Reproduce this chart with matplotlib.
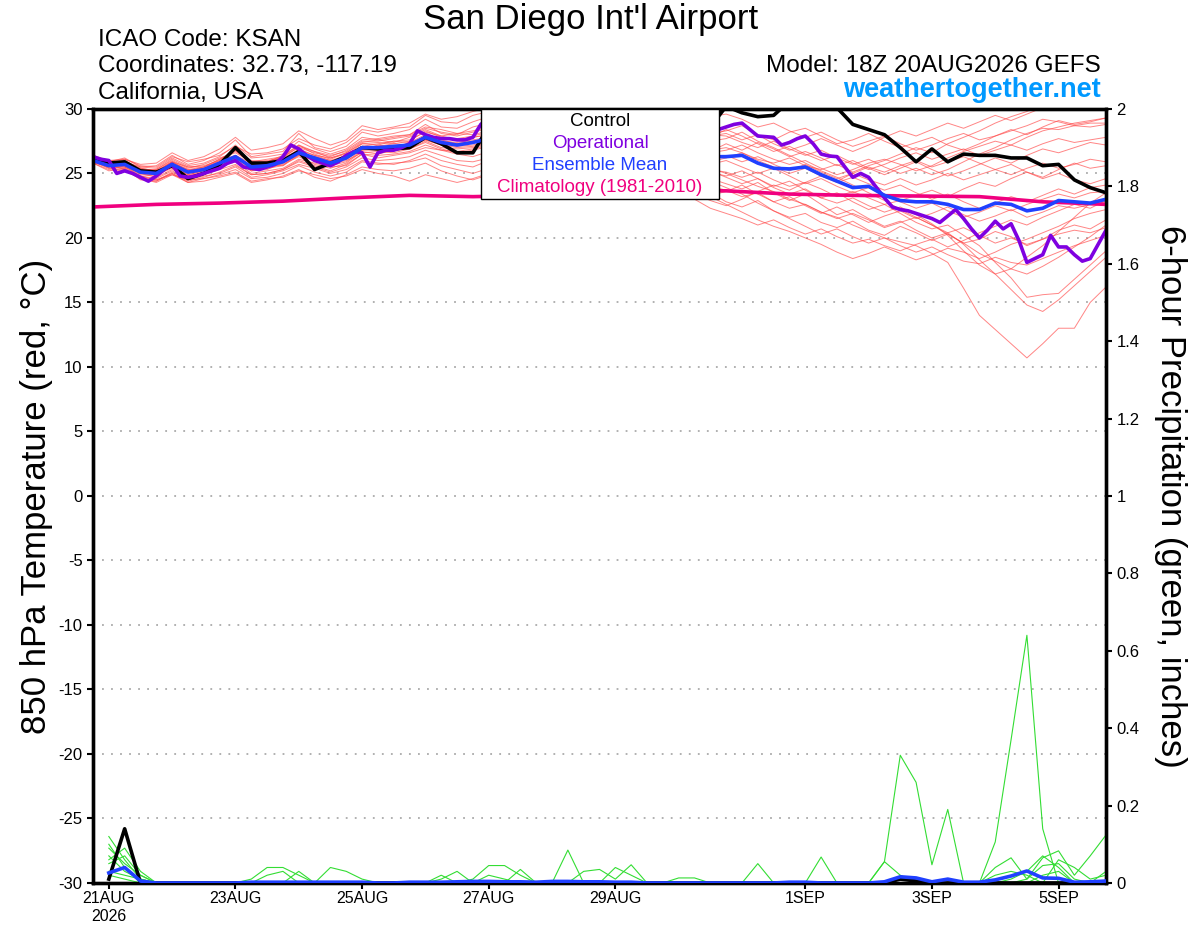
import numpy as np
import pandas as pd
import matplotlib
matplotlib.use("Agg")
import matplotlib.pyplot as plt
from matplotlib.patches import Rectangle

plt.rcParams['font.family'] = ['Liberation Sans', 'DejaVu Sans']
plt.rcParams['axes.unicode_minus'] = False

# ---------- data ----------
times = pd.date_range("2026-08-20 18:00", periods=65, freq="6h")
op_times = pd.date_range("2026-08-20 18:00", periods=129, freq="3h")
clim_times = times[::4]

tick_dates = pd.to_datetime(["2026-08-21", "2026-08-23", "2026-08-25", "2026-08-27",
                             "2026-08-29", "2026-09-01", "2026-09-03", "2026-09-05"])
tick_labels = ["21AUG\n2026", "23AUG", "25AUG", "27AUG", "29AUG", "1SEP", "3SEP", "5SEP"]

# 850 hPa temperature (C)
control_t = [26.2, 25.8, 25.9, 25.2, 25.1, 25.6, 24.6, 25.0, 25.7, 27.0, 25.8, 25.8, 26.0, 26.7, 25.3, 25.8,
             26.3, 27.0, 26.9, 26.9, 27.0, 27.8, 27.3, 26.6, 26.6,
             28.6, 29.2, 29.5, 29.0, 29.8, 30.4, 29.6, 29.9, 30.5, 29.8, 29.2, 29.6, 28.9, 28.2, 28.6,
             30.2, 29.7, 29.4, 29.5, 30.6, 31.0, 30.8, 30.1, 28.8, 28.4, 28.0, 27.0, 25.9, 26.9, 25.9,
             26.5, 26.4, 26.4, 26.2, 26.2, 25.6, 25.7, 24.5, 23.9, 23.5]

mean_t = [26.0, 25.6, 25.7, 25.1, 25.0, 25.7, 25.1, 25.3, 25.8, 26.3, 25.5, 25.6, 25.9, 26.6, 26.2, 25.8,
          26.2, 27.0, 27.0, 27.1, 27.2, 27.8, 27.4, 27.2, 27.4,
          27.7, 27.9, 27.6, 27.5, 27.8, 27.6, 27.3, 27.4, 27.1, 26.9, 27.0, 26.8, 26.5, 26.6, 26.3,
          26.3, 26.4, 25.8, 25.4, 25.35, 25.5, 24.9, 24.4, 23.9, 24.0, 23.3, 22.9, 22.8, 22.8, 22.6,
          22.2, 22.2, 22.7, 22.6, 22.1, 22.3, 22.9, 22.8, 22.7, 23.0]

oper_t = [26.3, 26.1, 26.0, 25.0, 25.2, 25.0, 24.7, 24.4, 24.8, 25.3, 25.7, 24.8, 24.7, 24.8, 25.0, 25.2,
          25.4, 25.8, 26.0, 25.5, 25.4, 25.3, 25.5, 25.7, 26.3, 27.2, 26.9, 26.4, 26.0, 25.8, 25.6, 25.9,
          26.4, 26.7, 26.6, 25.5, 26.6, 26.8, 26.8, 27.0, 27.3, 28.3, 28.0, 27.8, 27.7, 27.7, 27.6, 27.6,
          27.8, 28.8, 29.3, 29.6, 29.4, 29.9, 30.3, 30.1, 29.7, 29.5, 29.9, 30.2, 29.8, 29.4, 29.6, 29.2,
          28.9, 29.3, 29.5, 29.0, 28.7, 28.9, 28.6, 28.3, 28.5, 28.2, 28.4, 28.0, 28.3, 28.1, 28.2, 28.4,
          28.6, 28.8, 28.9, 28.4, 27.9, 27.85, 27.8, 27.2, 27.4, 27.7, 27.9, 27.3, 26.5, 26.35, 26.3, 25.5,
          24.7, 25.0, 24.7, 23.9, 23.1, 22.4, 22.2, 22.1, 21.9, 21.7, 21.5, 21.2, 21.7, 22.2, 21.5, 20.7,
          20.0, 20.6, 21.3, 20.7, 21.1, 19.8, 18.1, 18.4, 18.7, 20.2, 19.3, 19.3, 18.7, 18.2, 18.4, 19.5,
          20.6]

clim_t = [22.4, 22.6, 22.7, 22.85, 23.1, 23.3, 23.2, 23.3, 23.5, 23.7, 23.65, 23.4, 23.3, 23.25, 23.2,
          22.8, 22.6]

members_t = [
    [26.3, 25.9, 26.2, 25.5, 25.6, 26.4, 25.7, 26.0, 26.6, 27.6, 26.3, 26.5, 26.7, 28.1, 27.0, 26.7, 27.1, 28.2, 27.9, 28.1, 28.4, 29.2, 28.6, 28.5, 29.0,
     29.4, 29.8, 29.3, 29.6, 30.2, 29.8, 29.4, 29.7, 29.1, 28.9, 29.3, 28.7, 28.4, 28.6, 28.1,
     28.3, 28.7, 28.0, 27.6, 28.2, 28.5, 27.9, 27.3, 27.6, 28.1, 27.5, 27.0, 27.4, 27.8, 27.2, 26.8, 27.3, 27.9, 28.4, 28.0, 28.6, 29.1, 28.8, 29.0, 29.3],
    [25.8, 25.3, 25.2, 24.6, 24.4, 25.1, 24.5, 24.8, 25.0, 25.5, 24.7, 24.9, 25.2, 25.7, 25.4, 25.0, 25.3, 26.0, 25.8, 25.7, 26.0, 26.5, 26.0, 25.7, 25.5,
     26.0, 26.4, 26.1, 25.8, 26.3, 26.0, 25.7, 25.9, 25.5, 25.2, 25.4, 25.0, 24.6, 24.1, 23.5,
     22.8, 22.4, 22.9, 22.1, 21.6, 21.9, 21.2, 20.8, 21.3, 20.6, 20.2, 20.9, 20.4, 19.8, 20.3, 19.6, 19.9, 20.5, 20.1, 19.4, 19.9, 20.6, 21.0, 20.7, 21.4],
    [26.1, 25.7, 25.9, 25.3, 25.2, 25.9, 25.3, 25.5, 25.9, 26.8, 25.8, 25.9, 26.4, 27.2, 26.5, 26.1, 26.6, 27.3, 27.2, 27.5, 27.6, 28.2, 27.9, 27.6, 27.8,
     28.0, 28.3, 27.9, 27.7, 28.1, 27.8, 27.5, 27.6, 27.2, 27.0, 27.1, 26.6, 26.2, 25.9, 25.4,
     25.0, 24.5, 24.0, 23.6, 23.0, 22.6, 22.0, 21.6, 21.0, 20.5, 20.0, 19.7, 19.4, 18.8, 18.1, 16.1, 14.0, 12.9, 11.8, 10.7, 11.8, 13.0, 13.0, 15.0, 16.2],
    [26.4, 25.9, 25.6, 25.0, 24.7, 25.3, 24.8, 25.1, 25.4, 26.0, 25.2, 25.5, 25.7, 26.3, 25.7, 25.4, 25.8, 26.7, 26.5, 26.8, 26.9, 27.4, 26.9, 26.6, 26.8,
     27.1, 27.4, 27.0, 26.8, 27.2, 26.9, 26.5, 26.7, 26.3, 26.0, 26.2, 25.8, 25.4, 25.0, 24.6,
     24.2, 23.8, 24.3, 23.5, 22.9, 23.4, 22.6, 21.8, 22.2, 21.5, 20.9, 21.3, 20.6, 20.0, 20.4, 19.5, 18.3, 17.2, 16.0, 14.8, 14.3, 15.2, 16.3, 17.4, 18.5],
    [25.9, 25.5, 25.8, 25.2, 25.0, 25.5, 24.9, 25.2, 25.7, 26.1, 25.3, 25.4, 25.6, 26.4, 26.0, 25.6, 25.9, 26.8, 26.8, 26.9, 27.1, 27.6, 27.2, 27.1, 27.2,
     27.5, 27.7, 27.3, 27.2, 27.6, 27.3, 27.0, 27.1, 26.8, 26.5, 26.6, 26.2, 25.8, 25.5, 25.1,
     24.8, 25.2, 24.6, 24.0, 24.4, 23.7, 23.1, 23.5, 22.8, 22.2, 22.6, 21.9, 21.2, 20.7, 21.0, 20.2, 19.4, 18.1, 16.9, 15.4, 15.6, 15.7, 16.8, 17.9, 19.0],
    [26.2, 25.7, 25.6, 25.3, 25.3, 26.0, 25.4, 25.7, 26.2, 26.6, 25.9, 26.1, 26.3, 27.0, 26.6, 26.3, 26.8, 27.6, 27.7, 27.9, 28.0, 28.6, 28.4, 28.1, 28.3,
     28.6, 28.9, 28.5, 28.3, 28.7, 28.4, 28.0, 28.1, 27.7, 27.5, 27.6, 27.2, 26.9, 26.6, 26.8,
     27.0, 26.6, 26.1, 25.8, 26.2, 25.6, 25.3, 25.7, 25.1, 25.6, 26.0, 26.5, 27.0, 26.6, 27.3, 27.8, 28.3, 28.9, 29.4, 29.8, 30.4, 31.0, 31.3, 31.1, 31.5],
    [26.0, 25.8, 26.0, 25.4, 25.2, 25.8, 25.2, 25.4, 26.0, 26.9, 25.9, 26.0, 26.2, 26.8, 26.4, 26.0, 26.4, 27.3, 27.4, 27.3, 27.5, 28.3, 27.8, 27.7, 27.9,
     28.2, 28.5, 28.1, 28.0, 28.4, 28.1, 27.8, 27.9, 27.5, 27.2, 27.4, 27.0, 26.7, 26.9, 26.6,
     26.8, 27.2, 26.6, 26.1, 25.7, 26.0, 25.4, 24.9, 25.3, 25.8, 26.1, 25.7, 25.2, 25.6, 26.2, 26.7, 27.1, 27.5, 27.2, 27.8, 28.3, 28.6, 28.9, 29.1, 29.3],
    [26.1, 25.6, 25.5, 24.9, 24.8, 25.6, 24.7, 25.0, 25.6, 26.0, 25.2, 25.3, 25.8, 26.5, 26.3, 25.9, 26.3, 26.9, 27.1, 27.3, 27.2, 27.7, 27.5, 27.4, 27.6,
     27.8, 28.0, 27.7, 27.5, 27.9, 27.6, 27.2, 27.3, 27.0, 26.7, 26.9, 26.5, 26.1, 25.8, 25.3,
     25.1, 24.7, 25.1, 24.5, 24.0, 24.3, 23.8, 23.2, 23.6, 23.1, 22.6, 22.9, 23.3, 23.7, 23.2, 23.8, 24.3, 24.0, 24.6, 25.1, 24.7, 25.3, 25.8, 25.4, 25.6],
    [26.3, 25.8, 25.7, 25.0, 24.9, 25.4, 24.8, 25.1, 25.5, 25.9, 25.0, 25.2, 25.4, 26.1, 25.8, 25.5, 25.6, 26.5, 26.2, 26.4, 26.6, 27.0, 26.8, 26.5, 26.3,
     26.7, 27.0, 26.6, 26.4, 26.8, 26.5, 26.1, 26.3, 25.9, 25.6, 25.8, 25.3, 24.9, 24.5, 24.0,
     23.7, 23.2, 23.5, 22.8, 22.3, 22.6, 22.0, 21.5, 21.9, 21.4, 20.8, 21.2, 21.6, 21.0, 20.4, 20.8, 20.2, 19.6, 20.0, 19.5, 19.9, 20.3, 20.6, 20.4, 20.8],
    [25.9, 25.4, 25.5, 24.8, 24.6, 25.2, 24.6, 24.9, 25.3, 25.7, 24.9, 25.0, 25.3, 25.9, 25.5, 25.1, 25.5, 26.2, 26.0, 26.1, 26.3, 26.8, 26.4, 26.0, 25.9,
     26.2, 26.5, 26.1, 25.9, 26.2, 25.9, 25.5, 25.6, 25.2, 24.9, 25.0, 24.6, 24.2, 23.8, 23.2,
     22.6, 22.0, 21.4, 20.9, 20.5, 20.0, 19.5, 18.9, 18.4, 18.8, 19.3, 18.8, 18.3, 18.7, 19.2, 18.9, 18.4, 18.9, 19.5, 19.9, 20.4, 20.9, 21.5, 21.9, 22.2],
    [26.0, 25.5, 25.9, 25.2, 25.1, 25.9, 25.5, 25.6, 26.0, 26.4, 25.8, 25.9, 26.0, 26.9, 26.4, 26.2, 26.5, 27.1, 27.3, 27.5, 27.4, 28.0, 27.7, 27.6, 27.8,
     28.0, 28.3, 27.9, 27.8, 28.2, 27.9, 27.6, 27.7, 27.3, 27.1, 27.3, 26.9, 26.6, 26.3, 26.7,
     27.3, 26.8, 27.4, 26.9, 26.3, 26.7, 26.2, 25.6, 26.0, 25.4, 24.9, 25.4, 25.9, 25.3, 24.8, 25.2, 25.7, 26.2, 25.8, 26.4, 26.9, 26.6, 27.0, 27.4, 27.2],
    [26.2, 25.7, 25.3, 24.7, 24.5, 25.0, 24.4, 24.7, 25.1, 25.6, 24.9, 25.0, 25.3, 26.0, 25.6, 25.2, 25.7, 26.5, 26.4, 26.5, 26.7, 27.2, 26.8, 26.7, 26.9,
     27.2, 27.5, 27.1, 26.9, 27.3, 27.0, 26.6, 26.8, 26.4, 26.1, 26.3, 25.9, 25.5, 25.2, 25.7,
     26.0, 25.5, 25.0, 25.4, 24.8, 24.2, 24.6, 24.0, 23.5, 23.9, 23.4, 22.8, 22.3, 22.7, 22.1, 21.6, 22.0, 22.5, 22.1, 22.6, 23.0, 23.4, 23.1, 23.5, 23.6],
    [26.4, 26.0, 25.9, 25.5, 25.4, 26.2, 25.6, 25.8, 26.3, 27.2, 26.2, 26.3, 26.5, 27.5, 26.9, 26.5, 26.9, 27.8, 27.6, 27.8, 28.0, 28.8, 28.1, 27.9, 28.2,
     28.5, 28.8, 28.4, 28.2, 28.6, 28.3, 27.9, 28.0, 27.6, 27.4, 27.5, 27.1, 26.8, 27.1, 27.5,
     27.7, 28.2, 27.5, 27.0, 26.4, 25.8, 25.2, 24.7, 24.1, 23.5, 22.9, 22.2, 21.6, 21.0, 20.3, 19.6, 18.8, 18.2, 17.6, 17.2, 17.8, 18.5, 19.3, 20.1, 21.0],
    [25.8, 25.6, 25.8, 25.1, 24.9, 25.5, 25.0, 25.3, 25.9, 26.2, 25.6, 25.7, 26.1, 26.7, 26.2, 25.9, 26.4, 27.0, 26.8, 27.0, 27.3, 27.9, 27.6, 27.3, 27.5,
     27.7, 28.0, 27.6, 27.4, 27.8, 27.5, 27.2, 27.3, 26.9, 26.7, 26.8, 26.4, 26.0, 25.7, 25.9,
     26.2, 26.6, 26.0, 25.5, 25.0, 25.4, 24.8, 24.3, 24.7, 24.2, 23.7, 24.1, 23.5, 23.0, 23.4, 22.8, 22.3, 22.7, 23.2, 22.8, 23.3, 23.8, 23.4, 23.9, 24.1],
    [26.0, 25.4, 25.3, 24.6, 24.3, 24.9, 24.5, 24.6, 24.9, 25.3, 24.6, 24.7, 25.0, 25.6, 25.1, 24.8, 25.1, 25.9, 25.7, 25.8, 25.9, 26.2, 25.6, 25.3, 25.0,
     25.4, 25.8, 25.5, 25.3, 25.7, 25.4, 25.1, 25.3, 25.0, 24.7, 24.9, 24.5, 24.1, 23.7, 23.3,
     23.6, 24.1, 23.4, 22.8, 23.2, 22.5, 21.9, 22.4, 21.8, 21.2, 21.7, 22.1, 21.5, 21.9, 22.4, 21.8, 21.3, 21.7, 22.2, 21.6, 22.0, 22.5, 22.3, 22.6, 22.8],
    [26.1, 25.8, 26.1, 25.6, 25.5, 26.3, 25.9, 26.1, 26.4, 27.1, 26.5, 26.6, 26.9, 27.7, 27.2, 26.9, 27.4, 28.4, 28.2, 28.5, 28.6, 29.5, 29.0, 28.9, 29.5,
     29.8, 30.1, 29.7, 29.5, 30.0, 29.6, 29.2, 29.4, 29.0, 28.7, 28.9, 28.5, 28.2, 28.4, 28.0,
     27.9, 27.4, 27.0, 27.5, 26.9, 26.4, 26.8, 26.2, 25.7, 26.1, 25.5, 25.0, 25.4, 24.9, 25.3, 25.9, 26.5, 27.0, 27.6, 28.1, 28.5, 28.4, 28.7, 28.6, 28.8],
    [26.1, 25.5, 25.4, 24.8, 24.5, 24.9, 24.3, 24.6, 24.8, 25.1, 24.4, 24.6, 24.7, 25.2, 24.9, 24.6, 24.8, 25.3, 25.0, 24.8, 24.4, 24.9, 24.6, 24.3, 24.6,
     25.0, 25.4, 25.1, 24.9, 25.3, 25.0, 24.7, 24.9, 24.6, 24.3, 24.5, 24.1, 23.8, 23.4, 22.9,
     22.5, 23.0, 23.6, 24.1, 23.7, 24.3, 24.8, 24.4, 25.0, 25.5, 25.1, 25.6, 26.0, 25.5, 25.9, 26.3, 25.8, 25.3, 25.7, 25.1, 24.6, 25.0, 24.5, 24.2, 24.6],
    [26.3, 26.0, 26.1, 25.7, 25.8, 26.6, 26.0, 26.3, 26.9, 27.8, 26.8, 27.0, 27.3, 28.3, 27.7, 27.2, 27.6, 28.7, 28.4, 28.6, 28.9, 29.6, 29.2, 29.4, 29.8,
     30.1, 30.4, 30.0, 29.8, 30.3, 30.0, 29.7, 29.9, 29.6, 29.4, 29.6, 29.3, 29.0, 29.2, 29.4,
     29.6, 29.2, 28.6, 28.9, 28.3, 27.8, 28.2, 27.6, 27.1, 27.5, 27.9, 27.3, 26.8, 27.2, 27.7, 28.1, 27.6, 27.9, 28.3, 28.7, 29.2, 29.0, 28.7, 28.9, 28.9],
    [25.9, 25.6, 25.6, 25.0, 24.9, 25.8, 25.3, 25.3, 25.6, 26.2, 25.4, 25.8, 26.1, 26.5, 26.0, 25.7, 26.0, 26.6, 26.7, 26.6, 26.9, 27.5, 27.0, 26.9, 27.0,
     27.3, 27.6, 27.2, 27.0, 27.4, 27.1, 26.7, 26.9, 26.5, 26.2, 26.4, 26.0, 25.5, 25.0, 24.4,
     23.9, 23.4, 22.7, 22.1, 21.5, 20.9, 20.3, 20.7, 20.1, 19.6, 20.0, 19.4, 18.9, 19.3, 18.7, 18.2, 18.0, 18.5, 18.1, 17.9, 18.4, 18.9, 19.4, 19.8, 20.2],
    [26.2, 25.9, 25.8, 25.4, 25.2, 25.9, 25.2, 25.5, 26.1, 26.8, 25.7, 25.9, 26.3, 27.2, 26.7, 26.4, 26.7, 27.5, 27.5, 27.7, 27.9, 28.5, 28.2, 28.0, 28.6,
     28.9, 29.2, 28.8, 28.6, 29.0, 28.7, 28.4, 28.5, 28.1, 27.9, 28.1, 27.7, 27.4, 27.6, 27.9,
     28.1, 27.6, 28.0, 27.3, 26.8, 27.2, 27.7, 27.2, 26.7, 27.2, 27.8, 28.3, 27.9, 28.4, 28.9, 28.5, 29.0, 29.5, 29.1, 29.6, 30.1, 30.6, 30.3, 30.7, 31.0],
    [26.0, 25.7, 25.5, 25.0, 25.0, 25.5, 24.9, 25.2, 25.9, 26.4, 25.6, 25.5, 25.8, 26.4, 26.1, 25.7, 26.1, 27.0, 27.1, 26.9, 27.1, 27.6, 27.2, 27.0, 27.1,
     27.4, 27.6, 27.3, 27.1, 27.5, 27.2, 26.9, 27.0, 26.6, 26.4, 26.5, 26.1, 25.8, 25.5, 26.0,
     26.4, 25.9, 26.3, 25.7, 25.2, 25.7, 25.1, 24.6, 25.0, 24.5, 24.1, 24.6, 24.1, 24.5, 25.0, 24.5, 24.9, 25.3, 24.9, 25.4, 25.8, 25.4, 25.7, 26.1, 25.9],
    [25.8, 25.2, 25.4, 24.5, 24.4, 25.0, 24.3, 24.4, 24.7, 25.0, 24.3, 24.5, 24.8, 25.3, 24.7, 24.4, 24.9, 25.5, 25.3, 25.2, 25.4, 25.8, 25.2, 24.8, 24.5,
     24.9, 25.3, 25.0, 24.8, 25.2, 24.9, 24.6, 24.8, 24.5, 24.2, 24.4, 24.0, 23.6, 23.0, 22.3,
     21.9, 21.5, 21.0, 21.4, 20.8, 20.3, 20.7, 20.1, 19.6, 19.9, 19.4, 19.0, 19.5, 19.9, 19.3, 19.8, 20.4, 20.9, 21.4, 21.0, 21.6, 22.1, 22.6, 22.3, 22.9],
    [26.2, 25.8, 25.8, 25.1, 25.3, 26.1, 25.5, 25.5, 26.1, 26.7, 26.0, 25.9, 26.2, 27.1, 26.7, 26.2, 26.6, 27.4, 27.6, 27.4, 27.8, 28.4, 27.9, 28.1, 28.0,
     28.3, 28.6, 28.2, 28.0, 28.4, 28.1, 27.8, 27.9, 27.5, 27.3, 27.4, 27.0, 26.8, 27.2, 27.8,
     28.4, 27.9, 27.3, 26.7, 27.1, 26.5, 26.0, 26.4, 25.8, 25.3, 25.7, 26.2, 26.6, 26.1, 26.5, 26.9, 26.4, 26.8, 27.2, 26.8, 27.3, 27.7, 27.4, 27.6, 27.8],
    [26.1, 25.6, 25.8, 25.3, 25.0, 25.8, 25.2, 25.4, 25.6, 26.1, 25.6, 25.7, 25.6, 26.6, 26.3, 26.0, 26.1, 26.8, 27.2, 27.0, 27.4, 27.8, 27.3, 27.3, 27.5,
     27.7, 27.9, 27.5, 27.3, 27.7, 27.4, 27.1, 27.2, 26.8, 26.6, 26.7, 26.3, 25.9, 25.6, 25.2,
     24.7, 24.2, 24.6, 23.9, 23.4, 23.8, 23.1, 22.7, 23.1, 22.5, 22.0, 22.4, 21.8, 21.1, 20.2, 19.0, 17.9, 17.2, 17.6, 18.5, 19.4, 20.5, 21.6, 22.7, 23.5],
]

# 6-hour precipitation (inches), starting 00Z 21 Aug
control_p = [0.01, 0.14, 0.0, 0.0, 0.0, 0.0, 0.0, 0.0, 0.0, 0.0, 0.0, 0.0, 0.0, 0.0, 0.0, 0.0,
             0.0, 0.0, 0.0, 0.0, 0.0, 0.0, 0.0, 0.0, 0.0, 0.0, 0.0, 0.0, 0.0, 0.0, 0.0, 0.0,
             0.0, 0.0, 0.0, 0.0, 0.0, 0.0, 0.0, 0.0, 0.0, 0.0, 0.0, 0.0, 0.0, 0.0, 0.0, 0.0,
             0.0, 0.0, 0.01, 0.005, 0.0, 0.0, 0.0, 0.0, 0.0, 0.0, 0.0, 0.0, 0.0, 0.0, 0.0, 0.0]
mean_p = [0.026, 0.04, 0.005, 0.0, 0.0, 0.0, 0.0, 0.0, 0.0, 0.002, 0.002, 0.002, 0.002, 0.002, 0.002, 0.002,
          0.002, 0.0, 0.0, 0.002, 0.002, 0.002, 0.003, 0.004, 0.004, 0.003, 0.003, 0.002, 0.004, 0.004, 0.003, 0.003,
          0.002, 0.002, 0.0, 0.0, 0.0, 0.0, 0.0, 0.0, 0.0, 0.0, 0.0, 0.002, 0.002, 0.0, 0.0, 0.0,
          0.0, 0.003, 0.016, 0.013, 0.003, 0.01, 0.002, 0.002, 0.008, 0.018, 0.031, 0.013, 0.012, 0.002, 0.003, 0.005]

members_p = [
    [0.12, 0.06, 0.01] + [0.0] * 46 + [0.055, 0.33, 0.26, 0.047, 0.19, 0.0, 0.0, 0.106, 0.37, 0.64, 0.14,
                                       0.0, 0.0, 0.0, 0.0],
    [0.09, 0.05, 0.02, 0.0, 0.0, 0.0, 0.0, 0.0, 0.0, 0.01, 0.04, 0.04, 0.02, 0.0, 0.0, 0.0,
     0.0, 0.0, 0.0, 0.0, 0.0, 0.01, 0.03, 0.0, 0.0, 0.0, 0.0, 0.0, 0.0, 0.085, 0.0, 0.0,
     0.0, 0.0, 0.0, 0.0, 0.0, 0.0, 0.0, 0.0, 0.0, 0.0, 0.0, 0.0, 0.0, 0.0, 0.0, 0.0,
     0.0, 0.0, 0.0, 0.0, 0.0, 0.0, 0.0, 0.0, 0.04, 0.065, 0.01, 0.065, 0.083, 0.02, 0.07, 0.124],
    [0.06, 0.09, 0.03, 0.0, 0.0, 0.0, 0.0, 0.0, 0.0, 0.0, 0.0, 0.0, 0.03, 0.0, 0.04, 0.03,
     0.01, 0.0, 0.0, 0.0, 0.0, 0.0, 0.0, 0.01, 0.045, 0.045, 0.02, 0.0, 0.0, 0.0, 0.03, 0.035,
     0.01, 0.047, 0.0, 0.0, 0.013, 0.013, 0.0, 0.0, 0.0, 0.05, 0.0, 0.0, 0.0, 0.0, 0.0, 0.0,
     0.0, 0.0, 0.0, 0.0, 0.0, 0.0, 0.0, 0.0, 0.02, 0.03, 0.02, 0.0, 0.06, 0.04, 0.01, 0.02],
    [0.03, 0.02, 0.01, 0.0, 0.0, 0.0, 0.0, 0.0, 0.0, 0.0, 0.02, 0.03, 0.0, 0.0, 0.0, 0.0,
     0.0, 0.0, 0.0, 0.0, 0.0, 0.0, 0.0, 0.0, 0.02, 0.01, 0.0, 0.0, 0.0, 0.0, 0.0, 0.0,
     0.04, 0.02, 0.0, 0.0, 0.0, 0.0, 0.0, 0.0, 0.0, 0.0, 0.0, 0.0, 0.0, 0.067, 0.0, 0.0,
     0.0, 0.055, 0.02, 0.0, 0.0, 0.0, 0.0, 0.0, 0.0, 0.0, 0.01, 0.045, 0.05, 0.01, 0.0, 0.03],
    [0.10, 0.04, 0.0, 0.0, 0.0, 0.0, 0.0, 0.0, 0.0, 0.0, 0.0, 0.0, 0.0, 0.0, 0.0, 0.0,
     0.0, 0.0, 0.0, 0.0, 0.0, 0.02, 0.0, 0.0, 0.0, 0.0, 0.035, 0.0, 0.0, 0.0, 0.0, 0.0,
     0.0, 0.0, 0.0, 0.0, 0.0, 0.0, 0.0, 0.0, 0.0, 0.0, 0.0, 0.0, 0.0, 0.0, 0.0, 0.0,
     0.0, 0.0, 0.0, 0.0, 0.0, 0.0, 0.0, 0.0, 0.0, 0.0, 0.0, 0.02, 0.03, 0.0, 0.0, 0.0],
    [0.05, 0.07, 0.02, 0.0, 0.0, 0.0, 0.0, 0.0, 0.0, 0.0, 0.0, 0.0, 0.0, 0.0, 0.0, 0.0,
     0.0, 0.0, 0.0, 0.0, 0.0, 0.0, 0.0, 0.0, 0.0, 0.0, 0.0, 0.0, 0.0, 0.0, 0.0, 0.0,
     0.0, 0.0, 0.0, 0.0, 0.0, 0.0, 0.0, 0.0, 0.0, 0.0, 0.0, 0.0, 0.0, 0.0, 0.0, 0.0,
     0.0, 0.0, 0.0, 0.0, 0.0, 0.0, 0.0, 0.0, 0.0, 0.01, 0.03, 0.07, 0.04, 0.0, 0.0, 0.0],
    [0.02, 0.01, 0.0] + [0.0] * 61,
    [0.07, 0.03, 0.01] + [0.0] * 61,
]

# ---------- figure ----------
fig = plt.figure(figsize=(12, 9.27), dpi=100)
ax = fig.add_axes([0.0775, 0.0475, 0.8442, 0.835])
ax2 = ax.twinx()

for m in members_t:
    ax.plot(times, m, color='#ff4444', lw=0.7, alpha=0.65, zorder=1)
ax.plot(clim_times, clim_t, color='#f0007f', lw=2.6, zorder=3)
ax.plot(times, control_t, color='black', lw=2.6, zorder=4)
ax.plot(op_times, oper_t, color='#7f00e0', lw=2.6, zorder=5)
ax.plot(times, mean_t, color='#2040ff', lw=2.6, zorder=6)

for m in members_p:
    ax2.plot(times[1:], m, color='#33dd33', lw=0.8, zorder=1)
ax2.plot(times[1:], control_p, color='black', lw=2.6, zorder=3)
ax2.plot(times[1:], mean_p, color='#2040ff', lw=2.6, zorder=4)

ax.set_xlim(times[0], times[-1])
ax.set_ylim(-30, 30)
ax.set_yticks(np.arange(-30, 31, 5))
ax2.set_ylim(0, 2)
ax2.set_yticks(np.arange(0, 2.01, 0.2))
ax2.set_yticklabels(['0', '0.2', '0.4', '0.6', '0.8', '1', '1.2', '1.4', '1.6', '1.8', '2'])
ax.set_xticks(tick_dates)
ax.set_xticklabels(tick_labels, fontsize=11.5)

ax.yaxis.grid(True, linestyle=(0, (1, 4)), color='#aaaaaa', lw=1.3)
ax.set_axisbelow(True)
for a in (ax, ax2):
    for s in a.spines.values():
        s.set_linewidth(2.4)
    a.tick_params(direction='out', length=4, width=1.5, labelsize=12)
ax.tick_params(axis='x', labelsize=11.5, pad=2)

ax.set_ylabel("850 hPa Temperature (red, °C)", fontsize=25, labelpad=4)
ax2.set_ylabel("6-hour Precipitation (green, inches)", fontsize=25, rotation=-90, labelpad=34)

# legend box
ax2.add_patch(Rectangle((0.383, 0.8837), 0.235, 0.1163, transform=ax2.transAxes,
                        facecolor='white', edgecolor='black', lw=1.0, zorder=20, clip_on=False))
entries = [("Control", 'black'), ("Operational", '#7f00e0'),
           ("Ensemble Mean", '#2040ff'), ("Climatology (1981-2010)", '#f0007f')]
for k, (lab, col) in enumerate(entries):
    ax2.text(0.5005, 0.984 - k * 0.0283, lab, color=col, fontsize=13.5, ha='center', va='center',
             transform=ax2.transAxes, zorder=21)

# header texts
fig.text(0.492, 0.979, "San Diego Int'l Airport", fontsize=25, ha='center', va='center')
fig.text(0.0817, 0.957, "ICAO Code: KSAN", fontsize=17.5, ha='left', va='center')
fig.text(0.0817, 0.929, "Coordinates: 32.73, -117.19", fontsize=17.5, ha='left', va='center')
fig.text(0.0817, 0.900, "California, USA", fontsize=17.5, ha='left', va='center')
fig.text(0.9175, 0.929, "Model: 18Z 20AUG2026 GEFS", fontsize=17.5, ha='right', va='center')
fig.text(0.9175, 0.903, "weathertogether.net", fontsize=19.5, ha='right', va='center',
         color='#0099ff', fontweight='bold')

fig.savefig("out.png", dpi=100)
